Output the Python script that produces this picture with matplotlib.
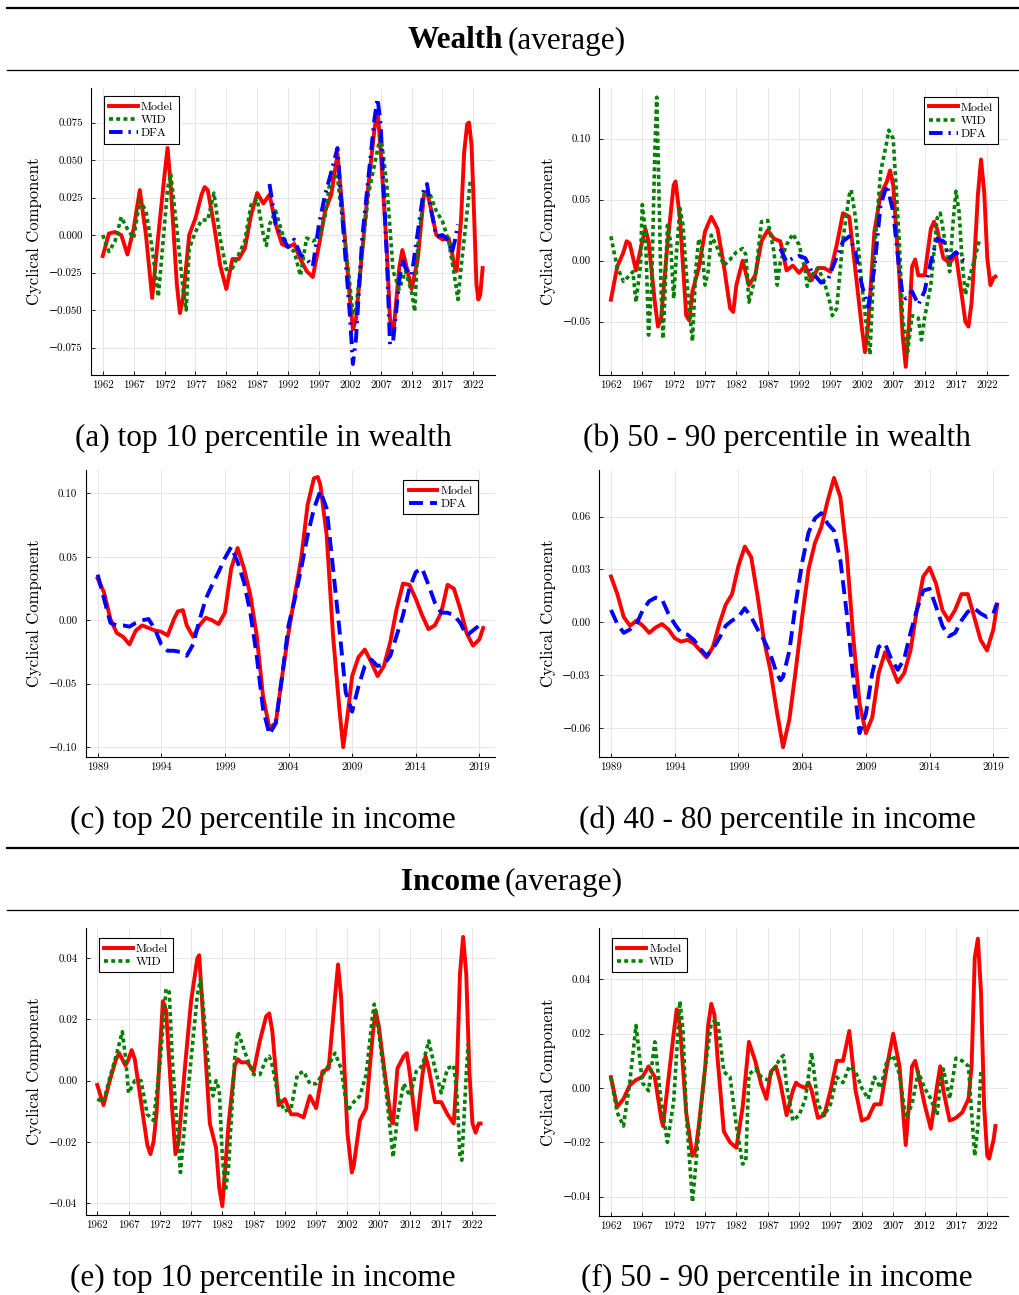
import numpy as np
import matplotlib
matplotlib.use("Agg")
import matplotlib.pyplot as plt
from matplotlib.lines import Line2D
from matplotlib.ticker import FuncFormatter

W, H = 1020, 1295
CM = ['cmr10', 'DejaVu Serif']
SERIF = ['Liberation Serif', 'DejaVu Serif']
RED, GREEN, BLUE = '#ff0000', '#008000', '#0000ff'

# ---------------- (a) top 10 percentile in wealth ----------------
a_model_t = [1962, 1963, 1964, 1965, 1966, 1967, 1968, 1969, 1970, 1971,
             1972, 1972.5, 1973, 1974, 1974.5, 1975, 1976, 1977, 1978, 1978.5,
             1979, 1980, 1981, 1982, 1983, 1984, 1985, 1986, 1987, 1988,
             1989, 1990, 1991, 1992, 1993, 1994, 1995, 1996, 1997, 1998,
             1999, 2000, 2001, 2002, 2002.5, 2003, 2004, 2005, 2006, 2006.5,
             2007, 2008, 2008.5, 2009, 2010, 2010.5, 2011, 2012, 2013, 2014,
             2014.5, 2015, 2016, 2017, 2018, 2018.5, 2019, 2019.3, 2020, 2020.5,
             2021, 2021.3, 2021.7, 2022, 2022.5, 2022.8, 2023.1, 2023.5]
a_model_v = [-0.014, 0.001, 0.002, 0.000, -0.013, 0.004, 0.030, 0.000, -0.042, 0.000,
             0.040, 0.058, 0.033, -0.033, -0.052, -0.042, 0.000, 0.011, 0.027, 0.032,
             0.030, 0.007, -0.020, -0.036, -0.016, -0.016, -0.009, 0.013, 0.028, 0.021,
             0.027, 0.007, -0.006, -0.008, -0.006, -0.016, -0.024, -0.028, -0.007, 0.016,
             0.027, 0.054, 0.008, -0.042, -0.063, -0.056, -0.011, 0.033, 0.071, 0.083,
             0.056, -0.011, -0.056, -0.067, -0.022, -0.010, -0.018, -0.036, -0.016, 0.027,
             0.029, 0.020, 0.000, -0.003, -0.002, -0.011, -0.022, -0.024, 0.010, 0.055,
             0.074, 0.075, 0.060, 0.027, -0.033, -0.043, -0.040, -0.022]

a_wid_t = [1962, 1963, 1964, 1965, 1966, 1967, 1968, 1969, 1970, 1971,
           1972, 1972.5, 1973, 1974, 1975, 1975.5, 1976, 1977, 1978, 1979,
           1980, 1981, 1982, 1983, 1984, 1985, 1986, 1987, 1988, 1988.5,
           1989, 1990, 1991, 1992, 1993, 1994, 1995, 1996, 1997, 1998,
           1999, 2000, 2001, 2002, 2002.5, 2003, 2004, 2005, 2006, 2007,
           2008, 2009, 2010, 2011, 2012, 2012.5, 2013, 2014, 2015, 2016,
           2017, 2018, 2019, 2019.5, 2020, 2021, 2021.5]
a_wid_v = [0.000, -0.011, -0.004, 0.012, 0.004, -0.002, 0.023, 0.016, -0.009, -0.041,
           0.007, 0.031, 0.041, 0.004, -0.036, -0.050, -0.009, 0.002, 0.010, 0.010,
           0.028, -0.002, -0.023, -0.022, -0.013, -0.004, 0.020, 0.024, 0.000, -0.007,
           0.007, 0.016, 0.002, -0.008, -0.011, -0.027, -0.002, -0.004, -0.002, 0.013,
           0.042, 0.038, 0.004, -0.033, -0.053, -0.049, -0.011, 0.027, 0.047, 0.067,
           0.033, -0.024, -0.036, -0.024, -0.038, -0.051, -0.007, 0.027, 0.027, 0.016,
           0.009, -0.004, -0.029, -0.043, -0.022, 0.016, 0.036]

a_dfa_t = [1989, 1990, 1991, 1992, 1993, 1994, 1995, 1996, 1997, 1998,
           1999, 2000, 2001, 2002, 2002.5, 2003, 2004, 2005, 2006, 2006.5,
           2007, 2008, 2008.5, 2009, 2010, 2010.5, 2011, 2012, 2013, 2014,
           2014.5, 2015, 2016, 2017, 2018, 2018.5, 2019, 2019.5]
a_dfa_v = [0.034, 0.007, -0.001, -0.008, -0.003, -0.013, -0.016, -0.021, 0.007, 0.027,
           0.042, 0.058, 0.000, -0.053, -0.086, -0.069, -0.002, 0.038, 0.078, 0.091,
           0.073, -0.016, -0.073, -0.071, -0.031, -0.016, -0.022, -0.027, 0.002, 0.031,
           0.034, 0.020, -0.001, 0.000, -0.004, -0.012, -0.004, 0.007]

# ---------------- (b) 50 - 90 percentile in wealth ----------------
b_model_t = [1962, 1963, 1964, 1964.5, 1965, 1966, 1967, 1967.5, 1968, 1969,
             1969.5, 1970, 1971, 1972, 1972.3, 1973, 1974, 1974.5, 1975, 1976,
             1977, 1978, 1979, 1980, 1981, 1981.5, 1982, 1983, 1984, 1985,
             1986, 1987, 1988, 1989, 1990, 1991, 1992, 1993, 1994, 1995,
             1996, 1997, 1998, 1999, 2000, 2001, 2002, 2002.5, 2003, 2004,
             2005, 2006, 2006.5, 2007, 2008, 2008.5, 2009, 2009.5, 2010, 2010.5,
             2011, 2012, 2013, 2013.5, 2014, 2015, 2016, 2017, 2018, 2018.5,
             2019, 2019.5, 2020, 2020.5, 2021, 2021.5, 2022, 2022.5, 2023, 2023.3]
b_model_v = [-0.032, -0.005, 0.007, 0.016, 0.014, -0.008, 0.016, 0.026, 0.016, -0.034,
             -0.054, -0.047, 0.013, 0.062, 0.065, 0.035, -0.045, -0.049, -0.025, -0.006,
             0.024, 0.036, 0.026, -0.004, -0.039, -0.042, -0.020, 0.000, -0.020, -0.012,
             0.016, 0.025, 0.018, 0.016, -0.008, -0.004, -0.010, -0.004, -0.016, -0.006,
             -0.006, -0.009, 0.013, 0.039, 0.036, -0.009, -0.055, -0.075, -0.053, 0.024,
             0.054, 0.065, 0.074, 0.062, -0.014, -0.061, -0.087, -0.053, -0.005, 0.001,
             -0.012, -0.012, 0.026, 0.032, 0.026, 0.002, -0.002, 0.005, -0.031, -0.050,
             -0.054, -0.034, 0.007, 0.054, 0.083, 0.057, 0.002, -0.020, -0.014, -0.013]

b_wid_t = [1962, 1962.5, 1963, 1964, 1965, 1965.5, 1966, 1966.7, 1967, 1967.5,
           1968, 1968.5, 1969, 1969.3, 1969.6, 1970, 1970.3, 1970.6, 1971, 1971.5,
           1972, 1972.5, 1973, 1973.5, 1974, 1974.5, 1975, 1975.5, 1976, 1976.5,
           1977, 1977.5, 1978, 1979, 1980, 1981, 1982, 1983, 1983.5, 1984,
           1985, 1986, 1987, 1988, 1988.5, 1989, 1990, 1991, 1992, 1993,
           1993.3, 1994, 1995, 1996, 1997, 1997.3, 1998, 1999, 2000, 2000.3,
           2001, 2002, 2003, 2003.3, 2004, 2005, 2006, 2006.3, 2007, 2008,
           2008.5, 2009, 2009.3, 2010, 2011, 2011.5, 2012, 2013, 2014, 2014.5,
           2015, 2016, 2016.5, 2017, 2017.5, 2018, 2018.5, 2019, 2020, 2020.7]
b_wid_v = [0.020, 0.007, -0.005, -0.017, -0.012, -0.009, -0.034, -0.004, 0.046, 0.024,
           -0.061, -0.020, 0.090, 0.134, 0.070, -0.025, -0.064, -0.030, 0.029, 0.016,
           -0.031, 0.010, 0.043, 0.029, -0.009, -0.040, -0.066, -0.009, 0.018, 0.010,
           -0.020, -0.009, 0.021, 0.010, -0.004, 0.001, 0.007, 0.010, 0.005, -0.034,
           -0.014, 0.032, 0.033, 0.007, -0.020, -0.001, 0.013, 0.022, 0.013, -0.009,
           -0.021, -0.012, -0.006, -0.017, -0.036, -0.045, -0.039, 0.018, 0.054, 0.058,
           0.035, -0.020, -0.066, -0.077, 0.007, 0.073, 0.098, 0.107, 0.100, 0.013,
           -0.047, -0.064, -0.075, -0.045, -0.047, -0.065, -0.047, -0.020, 0.035, 0.039,
           0.024, -0.009, 0.029, 0.057, 0.040, -0.001, -0.028, -0.017, 0.002, 0.016]

b_dfa_t = [1989, 1990, 1991, 1992, 1993, 1994, 1995, 1995.5, 1996.5, 1997,
           1998, 1999, 2000, 2001, 2002, 2003, 2004, 2005, 2006, 2007,
           2008, 2008.5, 2009, 2010, 2011, 2012, 2013, 2014, 2015, 2016,
           2017, 2018, 2019]
b_dfa_v = [0.010, -0.001, 0.002, 0.004, 0.002, -0.009, -0.015, -0.018, -0.017, -0.010,
           0.003, 0.016, 0.020, 0.007, -0.020, -0.038, -0.006, 0.046, 0.062, 0.040,
           -0.009, -0.028, -0.031, -0.025, -0.036, -0.025, -0.001, 0.018, 0.016, 0.002,
           0.007, 0.001, -0.001]

# ---------------- (c) top 20 percentile in income ----------------
half_years = list(np.arange(1989, 2019.25, 0.5)) + [2019.3]

c_model_t = [1989, 1989.5, 1990, 1990.5, 1991, 1991.5, 1992, 1992.5, 1993, 1993.5,
             1994, 1994.5, 1995, 1995.3, 1995.7, 1996, 1996.5, 1997, 1997.5, 1998,
             1998.5, 1999, 1999.5, 2000, 2000.5, 2001, 2001.5, 2002, 2002.5, 2003,
             2003.5, 2004, 2004.5, 2005, 2005.5, 2006, 2006.3, 2006.5, 2007, 2007.5,
             2008, 2008.3, 2008.7, 2009, 2009.5, 2010, 2010.5, 2011, 2011.5, 2012,
             2012.5, 2013, 2013.5, 2014, 2014.5, 2015, 2015.5, 2016, 2016.5, 2017,
             2017.5, 2018, 2018.5, 2019, 2019.3]
c_model_v = [0.033, 0.022, 0.001, -0.010, -0.013, -0.019, -0.008, -0.004, -0.006, -0.008,
             -0.009, -0.012, 0.001, 0.007, 0.008, -0.004, -0.013, -0.004, 0.002, 0.000,
             -0.003, 0.006, 0.041, 0.057, 0.041, 0.020, -0.012, -0.060, -0.085, -0.081,
             -0.044, -0.010, 0.020, 0.049, 0.091, 0.112, 0.113, 0.107, 0.067, -0.012,
             -0.070, -0.100, -0.070, -0.044, -0.029, -0.023, -0.033, -0.044, -0.036, -0.017,
             0.009, 0.029, 0.028, 0.017, 0.004, -0.007, -0.004, 0.006, 0.028, 0.025,
             0.009, -0.010, -0.020, -0.015, -0.006]

c_dfa_t = half_years
c_dfa_v = [0.036, 0.017, -0.002, -0.004, -0.004, -0.005, -0.002, 0.000, 0.001, -0.007,
           -0.019, -0.024, -0.024, -0.025, -0.028, -0.019, 0.000, 0.017, 0.028, 0.038,
           0.049, 0.058, 0.046, 0.030, 0.006, -0.028, -0.070, -0.090, -0.081, -0.044,
           -0.004, 0.017, 0.041, 0.067, 0.088, 0.102, 0.088, 0.041, -0.007, -0.057,
           -0.072, -0.052, -0.036, -0.031, -0.036, -0.035, -0.028, -0.012, 0.004, 0.025,
           0.038, 0.041, 0.028, 0.014, 0.006, 0.006, 0.004, -0.002, -0.012, -0.008,
           -0.004, -0.002]

# ---------------- (d) 40 - 80 percentile in income ----------------
d_model_t = half_years
d_model_v = [0.026, 0.016, 0.003, -0.002, 0.001, -0.002, -0.006, -0.003, -0.001, -0.004,
             -0.009, -0.011, -0.010, -0.012, -0.016, -0.020, -0.014, -0.001, 0.010, 0.016,
             0.032, 0.043, 0.037, 0.015, -0.010, -0.027, -0.050, -0.071, -0.055, -0.027,
             0.003, 0.030, 0.045, 0.054, 0.069, 0.082, 0.071, 0.039, -0.008, -0.046,
             -0.063, -0.054, -0.029, -0.017, -0.025, -0.034, -0.029, -0.016, 0.007, 0.026,
             0.031, 0.022, 0.007, 0.001, 0.007, 0.016, 0.016, 0.003, -0.010, -0.016,
             -0.004, 0.010]

d_dfa_t = [1989, 1989.5, 1990, 1990.5, 1991, 1991.5, 1992, 1992.5, 1993, 1993.5,
           1994, 1994.5, 1995, 1995.5, 1996, 1996.5, 1997, 1997.5, 1998, 1998.5,
           1999, 1999.5, 2000, 2000.5, 2001, 2001.5, 2002, 2002.3, 2002.5, 2003,
           2003.5, 2004, 2004.5, 2005, 2005.5, 2006, 2006.5, 2007, 2007.5, 2008,
           2008.5, 2009, 2009.5, 2010, 2010.5, 2011, 2011.5, 2012, 2012.5, 2013,
           2013.5, 2014, 2014.5, 2015, 2015.5, 2016, 2016.5, 2017, 2017.5, 2018,
           2018.5, 2019, 2019.3]
d_dfa_v = [0.007, -0.001, -0.006, -0.004, -0.001, 0.007, 0.012, 0.014, 0.013, 0.005,
           -0.001, -0.006, -0.007, -0.010, -0.015, -0.019, -0.015, -0.009, -0.002, 0.001,
           0.003, 0.008, 0.003, -0.004, -0.010, -0.018, -0.029, -0.033, -0.031, -0.016,
           0.011, 0.034, 0.051, 0.059, 0.062, 0.056, 0.052, 0.035, 0.005, -0.031,
           -0.063, -0.052, -0.029, -0.014, -0.012, -0.021, -0.027, -0.021, -0.006, 0.007,
           0.018, 0.019, 0.009, -0.002, -0.008, -0.006, 0.001, 0.006, 0.008, 0.005,
           0.003, 0.005, 0.011]

# ---------------- (e) top 10 percentile in income ----------------
e_model_t = [1962, 1963, 1964, 1965, 1965.5, 1966, 1966.5, 1967, 1967.5, 1968,
             1969, 1970, 1970.5, 1971, 1971.5, 1972, 1972.5, 1973, 1974, 1974.5,
             1975, 1976, 1977, 1978, 1978.3, 1979, 1980, 1981, 1981.5, 1982,
             1983, 1984, 1984.5, 1985, 1986, 1987, 1988, 1989, 1989.5, 1990,
             1991, 1992, 1993, 1994, 1995, 1996, 1997, 1998, 1999, 2000,
             2000.5, 2001, 2002, 2002.7, 2003, 2004, 2005, 2006, 2006.5, 2007,
             2008, 2009, 2009.3, 2010, 2011, 2011.5, 2012, 2013, 2014, 2014.5,
             2015, 2016, 2017, 2018, 2019, 2019.5, 2020, 2020.5, 2021, 2021.5,
             2022, 2022.5, 2023, 2023.3]
e_model_v = [-0.0014, -0.008, 0.000, 0.007, 0.009, 0.007, 0.005, 0.007, 0.010, 0.007,
             -0.007, -0.021, -0.024, -0.020, -0.010, 0.009, 0.026, 0.023, -0.010, -0.024,
             -0.020, 0.004, 0.026, 0.040, 0.041, 0.018, -0.014, -0.022, -0.035, -0.041,
             -0.014, 0.005, 0.007, 0.006, 0.006, 0.003, 0.013, 0.021, 0.022, 0.016,
             -0.008, -0.006, -0.011, -0.011, -0.012, -0.005, -0.009, 0.003, 0.004, 0.027,
             0.038, 0.027, -0.017, -0.030, -0.028, -0.013, -0.009, 0.014, 0.023, 0.018,
             0.002, -0.013, -0.014, 0.004, 0.008, 0.009, 0.002, -0.016, 0.002, 0.008,
             0.004, -0.007, -0.007, -0.011, -0.014, 0.002, 0.035, 0.047, 0.035, 0.003,
             -0.014, -0.017, -0.014, -0.014]

e_wid_t = [1962, 1963, 1964, 1965, 1966, 1966.5, 1967, 1968, 1969, 1970,
           1971, 1972, 1973, 1973.5, 1974, 1975, 1975.3, 1976, 1977, 1978,
           1978.5, 1979, 1980, 1980.5, 1981, 1981.5, 1982, 1982.5, 1983, 1984,
           1984.5, 1985, 1986, 1987, 1988, 1989, 1989.5, 1990, 1991, 1992,
           1993, 1994, 1995, 1996, 1997, 1998, 1999, 2000, 2001, 2002,
           2003, 2004, 2005, 2006, 2006.3, 2007, 2008, 2009, 2009.3, 2010,
           2011, 2012, 2013, 2014, 2015, 2016, 2017, 2018, 2019, 2019.5,
           2020, 2020.3, 2021, 2021.3]
e_wid_v = [-0.006, -0.007, 0.001, 0.008, 0.016, 0.008, -0.004, 0.000, 0.000, -0.011,
           -0.013, 0.005, 0.030, 0.029, 0.007, -0.022, -0.030, -0.014, 0.007, 0.028,
           0.033, 0.023, -0.001, -0.005, 0.000, -0.003, -0.025, -0.036, -0.028, 0.008,
           0.016, 0.013, 0.007, 0.002, 0.002, 0.007, 0.008, 0.005, -0.006, -0.010,
           -0.009, 0.002, 0.003, -0.001, -0.001, 0.002, 0.005, 0.009, 0.004, -0.010,
           -0.007, -0.005, 0.002, 0.021, 0.025, 0.016, 0.000, -0.019, -0.025, -0.012,
           -0.001, -0.005, 0.003, 0.005, 0.013, 0.004, -0.004, 0.004, 0.005, -0.004,
           -0.025, -0.026, 0.002, 0.012]

# ---------------- (f) 50 - 90 percentile in income ----------------
f_model_t = [1962, 1963, 1964, 1965, 1966, 1967, 1968, 1969, 1970, 1970.3,
             1971, 1972, 1972.5, 1973, 1974, 1975, 1975.5, 1976, 1977, 1977.5,
             1978, 1978.5, 1979, 1980, 1981, 1982, 1983, 1984, 1985, 1986,
             1986.8, 1987.5, 1988.3, 1989, 1990, 1991, 1991.5, 1992, 1993, 1993.5,
             1994, 1995, 1996, 1997, 1998, 1999, 2000, 2001, 2002, 2003,
             2004, 2005, 2006, 2007, 2008, 2009, 2010, 2010.5, 2011, 2012,
             2013, 2014, 2014.5, 2015, 2016, 2017, 2018, 2019, 2019.5, 2020,
             2020.5, 2021, 2021.5, 2022, 2022.3, 2023, 2023.3]
f_model_v = [0.004, -0.007, -0.004, 0.001, 0.003, 0.004, 0.008, 0.004, -0.011, -0.014,
             0.000, 0.020, 0.029, 0.023, -0.009, -0.025, -0.023, -0.014, 0.007, 0.023,
             0.031, 0.027, 0.011, -0.016, -0.020, -0.022, -0.007, 0.017, 0.010, 0.001,
             -0.004, 0.006, 0.008, 0.002, -0.010, -0.001, 0.002, 0.001, 0.000, 0.002,
             -0.001, -0.011, -0.010, -0.001, 0.010, 0.010, 0.021, -0.001, -0.012, -0.011,
             -0.006, -0.006, 0.008, 0.020, 0.008, -0.021, 0.008, 0.010, 0.005, -0.006,
             -0.015, 0.001, 0.008, -0.001, -0.012, -0.011, -0.009, -0.004, 0.008, 0.048,
             0.055, 0.035, -0.007, -0.025, -0.026, -0.019, -0.014]

f_wid_t = [1962, 1963, 1964, 1965, 1966, 1966.5, 1967, 1968, 1969, 1970,
           1971, 1972, 1973, 1973.5, 1974, 1975, 1976, 1977, 1978, 1979,
           1980, 1981, 1982, 1983, 1983.5, 1984, 1985, 1986, 1987, 1988,
           1989, 1989.5, 1990, 1991, 1992, 1993, 1994, 1995, 1996, 1997,
           1998, 1999, 2000, 2001, 2002, 2003, 2004, 2005, 2006, 2007,
           2008, 2009, 2010, 2011, 2012, 2013, 2014, 2014.5, 2015, 2016,
           2017, 2018, 2019, 2019.5, 2020, 2020.5, 2021]
f_wid_v = [0.004, -0.009, -0.014, 0.002, 0.023, 0.013, 0.002, -0.001, 0.017, -0.005,
           -0.020, -0.005, 0.032, 0.021, -0.009, -0.042, -0.016, 0.007, 0.024, 0.025,
           0.006, 0.004, -0.014, -0.028, -0.027, 0.005, 0.007, 0.004, 0.003, 0.007,
           0.011, 0.012, 0.001, -0.012, -0.010, -0.004, 0.013, -0.006, -0.010, -0.006,
           0.004, 0.002, 0.008, 0.006, 0.000, -0.004, 0.004, 0.000, 0.010, 0.012,
           0.005, -0.011, -0.006, 0.006, 0.000, -0.004, -0.010, 0.002, 0.007, -0.004,
           0.011, 0.010, 0.008, -0.009, -0.025, -0.014, 0.007]

long_years = [1962, 1967, 1972, 1977, 1982, 1987, 1992, 1997, 2002, 2007, 2012, 2017, 2022]
short_years = [1989, 1994, 1999, 2004, 2009, 2014, 2019]

plt.rcParams['font.family'] = CM
plt.rcParams['axes.linewidth'] = 0.8

MODEL_STYLE = dict(color=RED, lw=2.8, solid_joinstyle='round', label='Model')
WID_STYLE = dict(color=GREEN, lw=2.6, linestyle=(0, (1.1, 0.9)), label='WID')
DFA_DASHDOT = dict(color=BLUE, lw=2.8, linestyle=(0, (3.5, 1.5, 0.6, 1.5)), label='DFA')
DFA_DASH = dict(color=BLUE, lw=2.8, linestyle=(0, (3.6, 1.8)), label='DFA')


def px_rect(left, right, top, bottom):
    return [left / W, 1 - bottom / H, (right - left) / W, (bottom - top) / H]


def series(ax, t, v, style):
    if len(t) != len(v):
        raise ValueError(f"length mismatch {len(t)} vs {len(v)} for {style['label']}")
    ax.plot(t, v, **style)


def style_axes(ax, xlim, xticks, ylim, yticks, ydec, label_x):
    ax.set_xlim(*xlim)
    ax.set_ylim(*ylim)
    ax.set_xticks(xticks)
    ax.set_yticks(yticks)
    ax.xaxis.set_major_formatter(FuncFormatter(lambda v, p: f'{v:.0f}'))
    ax.yaxis.set_major_formatter(
        FuncFormatter(lambda v, p: f'{v:.{ydec}f}'.replace('-', '\u2212')))
    for s in ('top', 'right'):
        ax.spines[s].set_visible(False)
    ax.grid(True, color='#e6e6e6', lw=0.7)
    ax.set_axisbelow(True)
    ax.tick_params(direction='in', length=3, width=0.6, labelsize=7.8)
    ax.tick_params(axis='y', pad=6)
    ax.tick_params(axis='x', pad=4)
    ax.set_ylabel('Cyclical Component', fontsize=12)
    ax.yaxis.set_label_coords(label_x, 0.5)


def add_legend(ax, loc, anchor):
    leg = ax.legend(loc=loc, bbox_to_anchor=anchor, borderaxespad=0, fancybox=False,
                    edgecolor='black', framealpha=1, fontsize=8.6, handlelength=2.4,
                    handletextpad=0.25, borderpad=0.45, labelspacing=0.24)
    leg.get_frame().set_linewidth(0.8)


fig = plt.figure(figsize=(W / 100, H / 100), dpi=100)

# panel (a)
ax = fig.add_axes(px_rect(91, 495, 88, 375))
series(ax, a_model_t, a_model_v, MODEL_STYLE)
series(ax, a_wid_t, a_wid_v, WID_STYLE)
series(ax, a_dfa_t, a_dfa_v, DFA_DASHDOT)
style_axes(ax, (1960.1, 2025.5), long_years, (-0.0933, 0.098),
           [-0.075, -0.05, -0.025, 0.0, 0.025, 0.05, 0.075], 3, -0.121)
add_legend(ax, 'upper left', (0.032, 0.972))

# panel (b)
ax = fig.add_axes(px_rect(599, 1008, 88, 375))
series(ax, b_model_t, b_model_v, MODEL_STYLE)
series(ax, b_wid_t, b_wid_v, WID_STYLE)
series(ax, b_dfa_t, b_dfa_v, DFA_DASHDOT)
style_axes(ax, (1960.1, 2025.3), long_years, (-0.0937, 0.1416),
           [-0.05, 0.0, 0.05, 0.10], 2, -0.106)
add_legend(ax, 'upper right', (0.976, 0.969))

# panel (c)
ax = fig.add_axes(px_rect(85.7, 495, 470, 757.3))
series(ax, c_model_t, c_model_v, MODEL_STYLE)
series(ax, c_dfa_t, c_dfa_v, DFA_DASH)
style_axes(ax, (1988.06, 2020.23), short_years, (-0.108, 0.1185),
           [-0.10, -0.05, 0.0, 0.05, 0.10], 2, -0.107)
add_legend(ax, 'upper right', (0.958, 0.965))

# panel (d)
ax = fig.add_axes(px_rect(599, 1008, 470, 757.3))
series(ax, d_model_t, d_model_v, MODEL_STYLE)
series(ax, d_dfa_t, d_dfa_v, DFA_DASH)
style_axes(ax, (1988.06, 2020.15), short_years, (-0.0767, 0.0865),
           [-0.06, -0.03, 0.0, 0.03, 0.06], 2, -0.106)

# panel (e)
ax = fig.add_axes(px_rect(85.7, 495, 928.3, 1215))
series(ax, e_model_t, e_model_v, MODEL_STYLE)
series(ax, e_wid_t, e_wid_v, WID_STYLE)
style_axes(ax, (1960.15, 2025.6), long_years, (-0.0439, 0.0498),
           [-0.04, -0.02, 0.0, 0.02, 0.04], 2, -0.107)
add_legend(ax, 'upper left', (0.032, 0.966))

# panel (f)
ax = fig.add_axes(px_rect(599, 1008, 928.3, 1215.7))
series(ax, f_model_t, f_model_v, MODEL_STYLE)
series(ax, f_wid_t, f_wid_v, WID_STYLE)
style_axes(ax, (1960.1, 2025.3), long_years, (-0.047, 0.0588),
           [-0.04, -0.02, 0.0, 0.02, 0.04], 2, -0.106)
add_legend(ax, 'upper left', (0.032, 0.966))


def ftext(x, y, s, **kw):
    fig.text(x / W, 1 - y / H, s, fontfamily=SERIF, fontsize=22.5, va='center', **kw)


def rule(y, lw):
    fig.add_artist(Line2D([7 / W, 1], [1 - y / H, 1 - y / H], transform=fig.transFigure,
                          color='black', lw=lw))


rule(8, 1.6)
rule(70, 0.9)
rule(848, 1.6)
rule(910, 0.9)

ftext(503, 41, 'Wealth', ha='right', fontweight='bold')
ftext(508, 41, '(average)', ha='left')
ftext(500, 882, 'Income', ha='right', fontweight='bold')
ftext(505, 882, '(average)', ha='left')

ftext(263, 438, '(a) top 10 percentile in wealth', ha='center')
ftext(777, 438, '(b) 50 - 90 percentile in wealth', ha='center')
ftext(263, 820, '(c) top 20 percentile in income', ha='center')
ftext(777, 820, '(d) 40 - 80 percentile in income', ha='center')
ftext(263, 1278, '(e) top 10 percentile in income', ha='center')
ftext(777, 1278, '(f) 50 - 90 percentile in income', ha='center')

fig.savefig('out.png', dpi=100)
